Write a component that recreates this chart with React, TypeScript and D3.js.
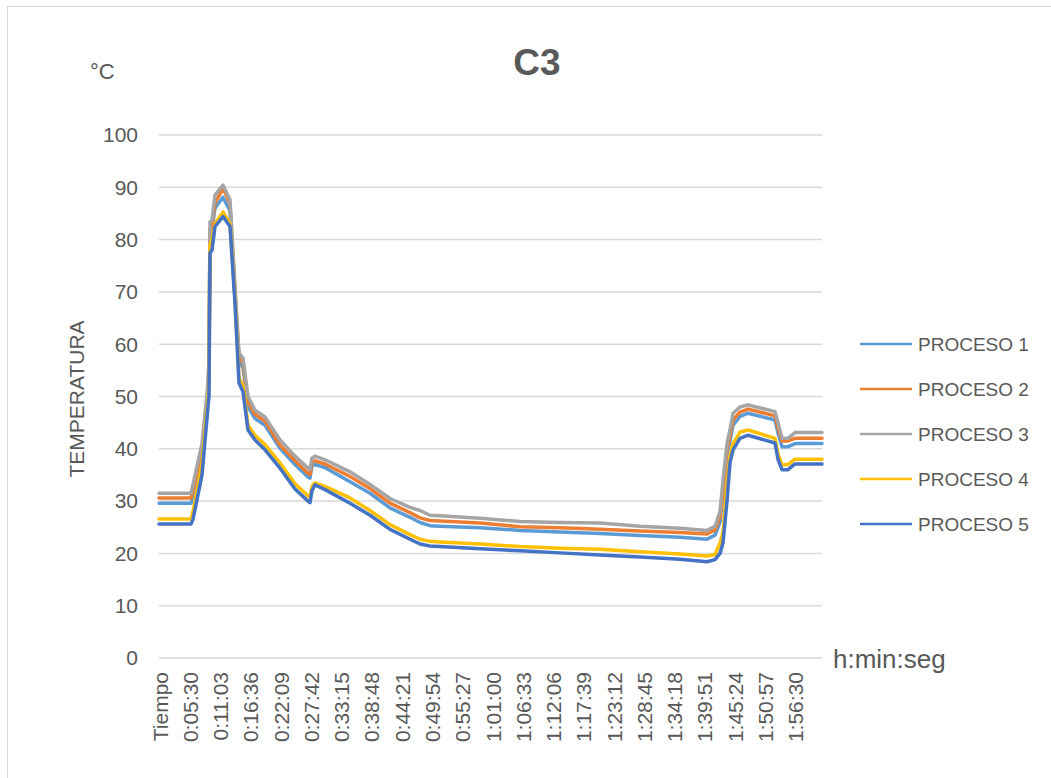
import * as d3 from 'd3'
import { useEffect, useRef } from 'react'

// tiempo en segundos desde el inicio
const tiempos = [
  0, 352, 374, 473, 539, 550, 561, 583, 616, 704, 781, 836, 880, 924, 979, 1056, 1166, 1331, 1496,
  1639, 1661, 1683, 1716, 1826, 2101, 2321, 2541, 2761, 2871, 2981, 3091, 3531, 3971, 4411, 4851,
  5291, 5731, 6028, 6116, 6171, 6204, 6248, 6281, 6314, 6391, 6479, 6776, 6809, 6853, 6919, 6996, 7293,
]

const proceso1 = [
  29.6, 29.6, 31, 39, 50, 56, 81, 82, 86, 88.1, 85.5, 69, 56.5, 55.5, 48, 45.8, 44.5, 40.1, 37,
  34.6, 34.4, 36.8, 37, 36.4, 33.7, 31.5, 28.7, 26.9, 25.9, 25.3, 25.2, 24.9, 24.4, 24.1, 23.8,
  23.4, 23.1, 22.7, 23.5, 26, 31, 39, 41.5, 44.5, 46.2, 46.8, 45.5, 43, 40.4, 40.4, 41, 41,
]
const proceso2 = [
  30.6, 30.6, 32, 40, 51, 57, 82, 83, 87, 89.8, 87, 70, 57.5, 56.5, 49, 46.6, 45.3, 40.7, 37.7,
  35.3, 35.1, 37.5, 37.7, 37.1, 34.7, 32.4, 29.6, 27.8, 26.8, 26.3, 26.2, 25.8, 25.1, 24.9, 24.6,
  24.3, 24.0, 23.7, 24.5, 27, 32, 40, 42.5, 45.5, 47.0, 47.6, 46.3, 44, 41.5, 41.5, 42, 42,
]
const proceso3 = [
  31.5, 31.5, 33.2, 41, 52.5, 57.5, 83.4, 83.7, 88.5, 90.4, 87.6, 71, 58.3, 57.3, 50, 47.4, 46.1, 41.7, 38.6,
  36.3, 36, 38.2, 38.6, 37.9, 35.6, 33.2, 30.5, 28.8, 28.2, 27.3, 27.2, 26.7, 26.1, 25.9, 25.8,
  25.2, 24.8, 24.4, 25.2, 28, 34, 41, 43.6, 46.8, 48, 48.4, 47.1, 45, 42, 42, 43.1, 43.1,
]
const proceso4 = [
  26.6, 26.6, 28, 37, 49, 53, 79, 80, 83, 85.3, 83, 68.5, 53.5, 52, 44.5, 42.6, 40.8, 37.3, 33.3,
  31, 30.7, 32.8, 33.5, 32.8, 30.6, 28.2, 25.5, 23.6, 22.7, 22.3, 22.2, 21.8, 21.3, 21.0, 20.8,
  20.3, 19.9, 19.5, 19.8, 22, 24, 33, 38.5, 41, 43.2, 43.6, 42, 39, 36.9, 37, 38, 38,
]
const proceso5 = [
  25.6, 25.6, 26.5, 35, 48, 50, 77.4, 78, 82.5, 84.4, 82.5, 67.8, 52.6, 50.9, 43.6, 41.7, 39.8, 36.3, 32.3,
  30, 29.7, 32, 33.1, 32.2, 29.6, 27.3, 24.6, 22.7, 21.8, 21.4, 21.3, 20.9, 20.5, 20.1, 19.7,
  19.3, 18.9, 18.4, 18.8, 20, 22, 30, 37.3, 39.8, 42, 42.6, 41.1, 38, 36, 36, 37.1, 37.1,
]

const nombres = ['PROCESO 1', 'PROCESO 2', 'PROCESO 3', 'PROCESO 4', 'PROCESO 5']
const colores = ['#5B9BD5', '#ED7D31', '#A5A5A5', '#FFC000', '#4472C4']

// etiquetas del eje de categorias, una cada 333 s
const etiquetasX = [
  'Tiempo', '0:05:30', '0:11:03', '0:16:36', '0:22:09', '0:27:42', '0:33:15', '0:38:48', '0:44:21',
  '0:49:54', '0:55:27', '1:01:00', '1:06:33', '1:12:06', '1:17:39', '1:23:12', '1:28:45', '1:34:18',
  '1:39:51', '1:45:24', '1:50:57', '1:56:30',
]
const pasoEtiqueta = 333
const ticksY = [0, 10, 20, 30, 40, 50, 60, 70, 80, 90, 100]

const WIDTH = 1051
const HEIGHT = 778
const FONT = '"Liberation Sans", Arial, sans-serif'
const TEXT = '#595959'

export default function App() {
  const ref = useRef<SVGSVGElement>(null)

  useEffect(() => {
    drawChart(ref.current)
  }, [])

  return (
    <svg
      ref={ref}
      width={WIDTH}
      height={HEIGHT}
      style={{ position: 'absolute', left: 0, top: 0, background: '#fff' }}
    ></svg>
  )
}

const drawChart = (node: any) => {
  const svg = d3.select(node)
  svg.selectAll('*').remove()

  const PLOT = { LEFT: 159, RIGHT: 822, TOP: 135, BOTTOM: 658 }

  const x = d3.scaleLinear().domain([0, 7293]).range([PLOT.LEFT, PLOT.RIGHT])
  const y = d3.scaleLinear().domain([0, 100]).range([PLOT.BOTTOM, PLOT.TOP])

  // marco del grafico
  svg.append('rect')
    .attr('x', 7.5).attr('y', 6.5)
    .attr('width', 1100).attr('height', 800)
    .attr('fill', 'none').attr('stroke', '#d9d9d9').attr('stroke-width', 1)

  // lineas de division
  svg.append('g')
    .selectAll('line')
    .data(ticksY)
    .join('line')
    .attr('x1', PLOT.LEFT).attr('x2', PLOT.RIGHT)
    .attr('y1', d => y(d)).attr('y2', d => y(d))
    .attr('stroke', '#d9d9d9').attr('stroke-width', 1.5)

  svg.append('g')
    .selectAll('text')
    .data(ticksY)
    .join('text')
    .attr('x', 138)
    .attr('y', d => y(d))
    .attr('dy', '0.35em')
    .attr('text-anchor', 'end')
    .attr('font-family', FONT).attr('font-size', 21).attr('fill', TEXT)
    .text(d => d)

  svg.append('g')
    .selectAll('text')
    .data(etiquetasX)
    .join('text')
    .attr('transform', (d, i) => `translate(${x(i * pasoEtiqueta) + 1},672) rotate(-90)`)
    .attr('dy', '0.36em')
    .attr('text-anchor', 'end')
    .attr('font-family', FONT).attr('font-size', 21).attr('fill', TEXT)
    .text(d => d)

  const series = [proceso1, proceso2, proceso3, proceso4, proceso5]

  const line = d3.line<number>()
    .x((d, i) => x(tiempos[i]))
    .y(d => y(d))

  svg.append('g')
    .selectAll('path')
    .data(series)
    .join('path')
    .attr('d', d => line(d))
    .attr('fill', 'none')
    .attr('stroke', (d, i) => colores[i])
    .attr('stroke-width', 3.5)
    .attr('stroke-linejoin', 'round')
    .attr('stroke-linecap', 'round')

  // titulo y rotulos
  svg.append('text')
    .attr('x', 537).attr('y', 75)
    .attr('text-anchor', 'middle')
    .attr('font-family', FONT).attr('font-size', 37).attr('font-weight', 'bold').attr('fill', TEXT)
    .text('C3')

  svg.append('text')
    .attr('x', 90).attr('y', 79)
    .attr('font-family', FONT).attr('font-size', 22).attr('fill', TEXT)
    .text('°C')

  svg.append('text')
    .attr('transform', 'translate(84,399) rotate(-90)')
    .attr('text-anchor', 'middle')
    .attr('font-family', FONT).attr('font-size', 21).attr('fill', TEXT)
    .text('TEMPERATURA')

  svg.append('text')
    .attr('x', 833).attr('y', 668)
    .attr('font-family', FONT).attr('font-size', 26).attr('fill', TEXT)
    .text('h:min:seg')

  // leyenda
  const legend = svg.append('g')
    .selectAll('g')
    .data(nombres)
    .join('g')
    .attr('transform', (d, i) => `translate(860,${344 + i * 45})`)

  legend.append('line')
    .attr('x1', 0).attr('x2', 52)
    .attr('stroke', (d, i) => colores[i])
    .attr('stroke-width', 2.5)

  legend.append('text')
    .attr('x', 58)
    .attr('dy', '0.36em')
    .attr('font-family', FONT).attr('font-size', 19).attr('fill', TEXT)
    .text(d => d)
}
